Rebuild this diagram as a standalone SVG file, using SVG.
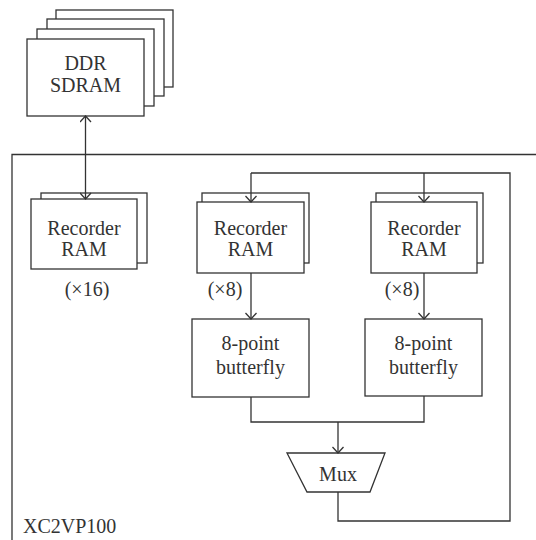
<svg xmlns="http://www.w3.org/2000/svg" width="536" height="540" viewBox="0 0 536 540">
<style>
.b{fill:#fff;stroke:#333;stroke-width:1.3}
.l{fill:none;stroke:#333;stroke-width:1.3}
.t{font-size:20px;fill:#333;text-anchor:middle}
</style>
<defs>
<marker id="ah" markerWidth="12" markerHeight="12" viewBox="0 0 12 12" refX="11" refY="6" orient="auto-start-reverse" markerUnits="userSpaceOnUse">
<path d="M5,0.5 L11,6 L5,11.5" fill="none" stroke="#333" stroke-width="1.3"/>
</marker>
</defs>
<rect width="536" height="540" fill="#fff"/>
<g font-family="'Liberation Serif', 'DejaVu Serif', serif">
<g id="fpga">
<path class="l" d="M12,540 V154.5 H536"/>
<text class="t" x="23" y="533" text-anchor="start" style="text-anchor:start">XC2VP100</text>
</g>
<g id="ddr">
<rect class="b" x="56" y="10" width="117" height="77"/>
<rect class="b" x="47" y="19" width="117" height="77"/>
<rect class="b" x="37" y="29" width="117" height="77"/>
<rect class="b" x="27" y="39" width="117" height="77"/>
<text class="t" x="85.5" y="70">DDR</text>
<text class="t" x="85.5" y="92">SDRAM</text>
</g>
<g id="ram16">
<rect class="b" x="41" y="193" width="106" height="70"/>
<rect class="b" x="31" y="199" width="106" height="70"/>
<text class="t" x="84" y="235">Recorder</text>
<text class="t" x="84" y="256">RAM</text>
<text class="t" x="87" y="296">(×16)</text>
</g>
<g id="ram8a">
<rect class="b" x="202" y="193" width="107" height="70"/>
<rect class="b" x="197" y="202" width="107" height="71"/>
<text class="t" x="250.5" y="235">Recorder</text>
<text class="t" x="250.5" y="256">RAM</text>
<text class="t" x="225" y="296">(×8)</text>
</g>
<g id="ram8b">
<rect class="b" x="376" y="193" width="107" height="70"/>
<rect class="b" x="371" y="202" width="106" height="71"/>
<text class="t" x="424" y="235">Recorder</text>
<text class="t" x="424" y="256">RAM</text>
<text class="t" x="402" y="296">(×8)</text>
</g>
<g id="bfa">
<rect class="b" x="192" y="319" width="117" height="78"/>
<text class="t" x="250.5" y="350">8-point</text>
<text class="t" x="250.5" y="374">butterfly</text>
</g>
<g id="bfb">
<rect class="b" x="365" y="319" width="117" height="77"/>
<text class="t" x="423.5" y="350">8-point</text>
<text class="t" x="423.5" y="374">butterfly</text>
</g>
<g id="mux">
<path class="b" d="M287,453 H385 L370,492 H307 Z"/>
<text class="t" x="338" y="481">Mux</text>
</g>
</g>
<g id="connectors">
<path class="l" d="M85.5,116 V199" marker-start="url(#ah)" marker-end="url(#ah)"/>
<path class="l" d="M251,173 V202" marker-end="url(#ah)"/>
<path class="l" d="M424,173 V202" marker-end="url(#ah)"/>
<path class="l" d="M251,273 V319" marker-end="url(#ah)"/>
<path class="l" d="M424,273 V319" marker-end="url(#ah)"/>
<path class="l" d="M251,397 V422 H424 V396"/>
<path class="l" d="M338,422 V453" marker-end="url(#ah)"/>
<path class="l" d="M338,492 V521 H510 V173 H251"/>
</g>
</svg>
